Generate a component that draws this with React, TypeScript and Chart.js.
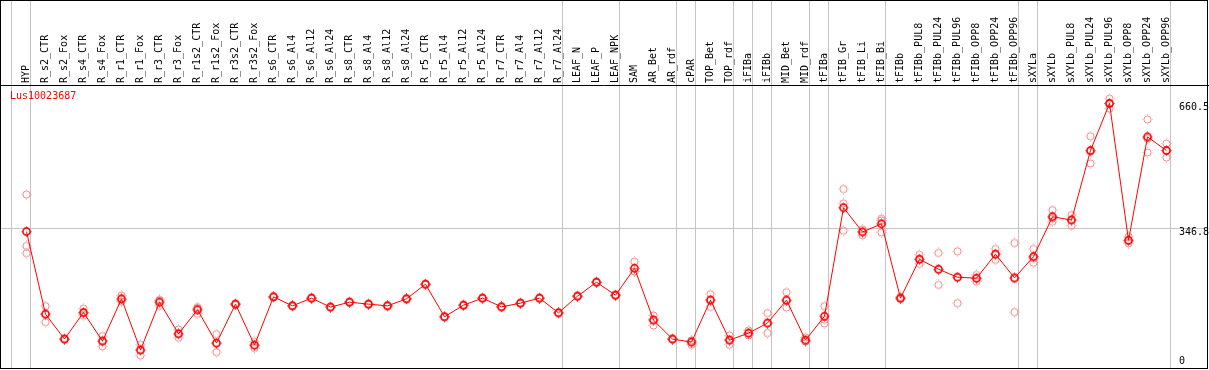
import React, { useEffect, useRef } from 'react';
import { Chart, registerables } from 'chart.js';

Chart.register(...registerables);

const geneName = 'Lus10023687';

const categories = [
  'HYP', 'R_s2_CTR', 'R_s2_Fox', 'R_s4_CTR', 'R_s4_Fox', 'R_r1_CTR', 'R_r1_Fox', 'R_r3_CTR', 'R_r3_Fox',
  'R_r1s2_CTR', 'R_r1s2_Fox', 'R_r3s2_CTR', 'R_r3s2_Fox', 'R_s6_CTR', 'R_s6_Al4', 'R_s6_Al12', 'R_s6_Al24',
  'R_s8_CTR', 'R_s8_Al4', 'R_s8_Al12', 'R_s8_Al24', 'R_r5_CTR', 'R_r5_Al4', 'R_r5_Al12', 'R_r5_Al24',
  'R_r7_CTR', 'R_r7_Al4', 'R_r7_Al12', 'R_r7_Al24', 'LEAF_N', 'LEAF_P', 'LEAF_NPK', 'SAM', 'AR_Bet', 'AR_rdf',
  'cPAR', 'TOP_Bet', 'TOP_rdf', 'iFIBa', 'iFIBb', 'MID_Bet', 'MID_rdf', 'tFIBa', 'tFIB_Gr', 'tFIB_Li', 'tFIB_Bi',
  'tFIBb', 'tFIBb_PUL8', 'tFIBb_PUL24', 'tFIBb_PUL96', 'tFIBb_OPP8', 'tFIBb_OPP24', 'tFIBb_OPP96', 'sXYLa',
  'sXYLb', 'sXYLb_PUL8', 'sXYLb_PUL24', 'sXYLb_PUL96', 'sXYLb_OPP8', 'sXYLb_OPP24', 'sXYLb_OPP96',
];

const meanValues = [
  339, 132, 69.3, 136, 64.3, 170.3, 41.8, 162, 82.6,
  142.7, 59.3, 157, 54.2, 175.3, 152.7, 172, 149.5,
  162, 157, 152.7, 170.3, 207, 125.2, 154.4, 172,
  150.2, 159.5, 172, 135.2, 177, 212, 179.5, 247, 116.9, 69.3,
  61.8, 167, 66.8, 84.3, 109.4, 167, 66.8, 126.5, 399, 338, 358.5,
  172, 269.6, 244.6, 224.6, 222, 282.2, 222.8, 276.2,
  376.3, 368, 542.5, 660.5, 317.2, 576.6, 542.5,
];

const rep1 = [
  432, 152, 70, 146, 77, 178.5, 55, 167.7, 93.5,
  149.5, 81.8, 158.5, 62.6, 176.5, 153.5, 173, 150.5,
  163, 158, 153.5, 171.5, 208, 126, 155.5, 173,
  151, 160.5, 173, 136, 178, 213, 180.5, 263.7, 128.5, 70,
  55, 182, 78.4, 91, 134.4, 187, 73.4, 152, 445.7, 344.8, 371.3,
  175, 281, 285.4, 289.6, 230.3, 295.4, 310.5, 295.4,
  393, 380.6, 578.4, 672.7, 326.3, 620.2, 560,
];

const rep2 = [
  303, 112, 68.5, 127.7, 50.9, 163.5, 28.4, 152.7, 72.6,
  132.7, 36.7, 155.5, 46.7, 174, 152, 171, 148.5,
  161, 156, 152, 169, 206, 124.5, 153.5, 171,
  149.5, 158.5, 171, 134.5, 176, 211, 178.5, 238.7, 103.4, 68.5,
  65, 150, 55, 78.4, 84.3, 148.5, 63.4, 108.5, 409.8, 329.7, 367,
  170, 257.9, 205.3, 159.5, 213.6, 268, 137, 261.1,
  363.8, 353.8, 510, 647.7, 309.7, 537.5, 525,
];

const rep3 = [
  285, 132, 69.4, 134.3, 65, 169, 42, 165.6, 81.7,
  146, 59.4, 157, 53.3, 175.3, 152.7, 172, 149.5,
  162, 157, 152.7, 170.3, 207, 125.2, 154.4, 172,
  150.2, 159.5, 172, 135.2, 177, 212, 179.5, 238.6, 118.8, 69.4,
  65.4, 169, 67, 83.5, 109.5, 165.5, 63.6, 117.7, 341.3, 339.5, 337.2,
  172, 270, 243.1, 224.7, 222.1, 283.2, 221, 272.1,
  372.1, 369.6, 539.1, 661.1, 315.6, 572.1, 542.5,
];

// boundaries (before category index k) that carry a grey separator line
const separatorBoundaries = [0, 1, 29, 32, 35, 36, 38, 39, 40, 42, 43, 46, 53, 54, 61];
const yTickValues = [346.8, 660.5];
const yGridValues = [346.8];
const yZeroTick = [0];

const FONT = { family: 'DejaVu Sans Mono', size: 10, lineHeight: 1.2 };
const GRID_GREY = '#c4c4c4';

function makeMarker(color: string, ringWidth: number): HTMLCanvasElement {
  const c = document.createElement('canvas');
  c.width = 11;
  c.height = 11;
  const g = c.getContext('2d')!;
  g.strokeStyle = color;
  g.lineWidth = ringWidth;
  g.beginPath();
  g.arc(5.5, 5.5, 3.6, 0, Math.PI * 2);
  g.stroke();
  g.globalAlpha = 0.45;
  g.fillStyle = color;
  g.fillRect(5, 0, 1, 1);
  g.fillRect(5, 10, 1, 1);
  g.fillRect(0, 5, 1, 1);
  g.fillRect(10, 5, 1, 1);
  return c;
}

const framePlugin = {
  id: 'frameAndTitle',
  afterDraw(chart: any) {
    const ctx = chart.ctx;
    ctx.save();
    ctx.strokeStyle = '#000';
    ctx.lineWidth = 1;
    ctx.strokeRect(0.5, 0.5, 1207, 368);
    ctx.fillStyle = '#ff0000';
    ctx.font = '10px "DejaVu Sans Mono"';
    ctx.textBaseline = 'top';
    ctx.textAlign = 'left';
    ctx.fillText(geneName, 10, 91);
    ctx.restore();
  },
};

export default function App() {
  const ref = useRef<HTMLCanvasElement | null>(null);

  useEffect(() => {
    if (!ref.current) return;
    const meanMarker = makeMarker('#ff0000', 1.6);
    const repMarker = makeMarker('#f08888', 1);
    const sepSet = new Set(separatorBoundaries);
    const boundaryOffset = -0.7895;
    const boundaryTicks = Array.from({ length: categories.length + 1 }, (_, k) => k + boundaryOffset);

    const replicatePoints = [rep1, rep2, rep3].flatMap((arr) => arr.map((v, i) => ({ x: i, y: v })));

    const chart = new Chart(ref.current, {
      type: 'line',
      data: {
        datasets: [
          {
            label: 'mean',
            data: meanValues.map((v, i) => ({ x: i, y: v })),
            borderColor: '#ff0000',
            borderWidth: 1,
            pointStyle: meanMarker as any,
            pointRadius: 5,
            tension: 0,
            xAxisID: 'x',
            yAxisID: 'y',
          },
          {
            label: 'replicates',
            data: replicatePoints,
            showLine: false,
            borderColor: '#f08888',
            pointStyle: repMarker as any,
            pointRadius: 5,
            xAxisID: 'x',
            yAxisID: 'y',
          },
        ],
      },
      options: {
        animation: false,
        responsive: false,
        devicePixelRatio: 1,
        layout: { autoPadding: false, padding: { left: 0, right: 1, top: 0, bottom: 1 } },
        plugins: { legend: { display: false }, tooltip: { enabled: false }, title: { display: false } },
        scales: {
          x: {
            type: 'linear',
            position: 'top',
            min: -26.5 / 19,
            max: 60 + (1208 - 1166.5) / 19,
            afterBuildTicks: (s: any) => {
              s.ticks = boundaryTicks.map((v) => ({ value: v }));
            },
            afterFit: (s: any) => {
              s.height = 85;
              s.paddingLeft = 0;
              s.paddingRight = 0;
              s.paddingTop = 0;
              s.paddingBottom = 0;
            },
            grid: {
              color: (c: any) => (sepSet.has(c.index) ? GRID_GREY : 'rgba(0,0,0,0)'),
              tickLength: 85,
              drawTicks: true,
              lineWidth: 1,
            },
            border: { display: true, color: '#000', width: 1 },
            ticks: {
              autoSkip: false,
              minRotation: 90,
              maxRotation: 90,
              padding: -83,
              labelOffset: 27,
              font: FONT,
              color: '#000',
              callback: (_v: any, i: number) => categories[i] ?? '',
            },
          },
          y: {
            type: 'linear',
            position: 'right',
            min: -5.77,
            max: 706.9,
            afterBuildTicks: (s: any) => {
              s.ticks = yTickValues.map((v) => ({ value: v }));
            },
            afterFit: (s: any) => {
              s.width = 0;
              s.paddingTop = 0;
              s.paddingBottom = 0;
            },
            grid: {
              color: (c: any) => (c.tick && yGridValues.includes(c.tick.value) ? GRID_GREY : 'rgba(0,0,0,0)'),
              drawTicks: false,
            },
            border: { display: false },
            ticks: {
              mirror: true,
              crossAlign: 'far',
              padding: 1,
              labelOffset: 4,
              font: FONT,
              color: '#000',
              callback: (v: any) => String(v),
            },
          },
          y0: {
            type: 'linear',
            position: 'right',
            min: -5.77,
            max: 706.9,
            afterBuildTicks: (s: any) => {
              s.ticks = yZeroTick.map((v) => ({ value: v }));
            },
            afterFit: (s: any) => {
              s.width = 0;
              s.paddingTop = 0;
              s.paddingBottom = 0;
            },
            grid: { display: false, drawTicks: false },
            border: { display: false },
            ticks: {
              mirror: true,
              crossAlign: 'far',
              padding: -23,
              labelOffset: -5,
              font: FONT,
              color: '#000',
              callback: (v: any) => String(v),
            },
          },
        },
      },
      plugins: [framePlugin],
    });
    return () => chart.destroy();
  }, []);

  return (
    <div style={{ position: 'absolute', left: 0, top: 0, width: 1209, height: 370, background: '#fff' }}>
      <canvas ref={ref} width={1209} height={370} style={{ display: 'block' }} />
    </div>
  );
}
